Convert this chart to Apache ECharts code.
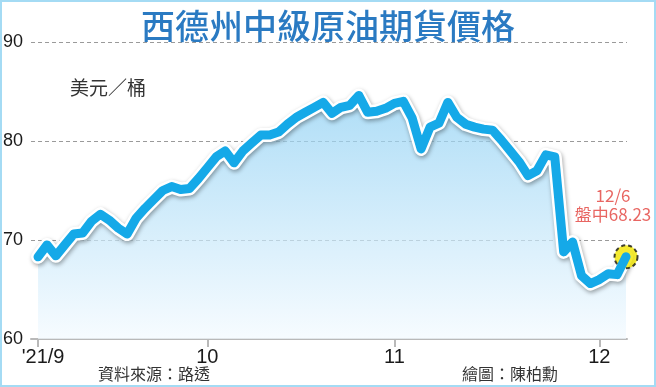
<!DOCTYPE html>
<html>
<head>
<meta charset="utf-8">
<script src="https://cdn.jsdelivr.net/npm/echarts@6/dist/echarts.min.js"></script>
<style>
html,body{margin:0;padding:0;background:#fff;}
#c{width:656px;height:387px;}
</style>
</head>
<body>
<div id="c"></div>
<script>
// WTI crude futures, USD/barrel at evenly spaced trading days (Sep 1 – Dec 6, 2021)
const prices = [
  68.3, 69.5, 68.4, 69.5, 70.6, 70.7, 71.9, 72.6, 72.0, 71.2,
  70.6, 72.2, 73.2, 74.1, 75.0, 75.4, 75.1, 75.2, 76.2, 77.3,
  78.4, 79.0, 77.8, 79.0, 79.8, 80.6, 80.6, 80.9, 81.7, 82.4,
  82.9, 83.4, 83.9, 82.8, 83.4, 83.6, 84.6, 82.9, 83.0, 83.3,
  83.8, 84.0, 82.3, 79.2, 81.4, 81.8, 83.9, 82.4, 81.7, 81.4,
  81.2, 81.1, 80.1, 79.0, 77.9, 76.5, 77.0, 78.6, 78.4, 68.8,
  69.8, 66.4, 65.6, 66.0, 66.6, 66.5, 68.3
];
const tickIndex = [0, 19, 40, 63];
const tickLabels = ["'21/9", "10", "11", "12"];
const yMin = 60, yMax = 90, yStep = 10;
const titleText = '西德州中級原油期貨價格';
const unitText = '美元／桶';
const lastDate = '12/6';
const lastNote = '盤中68.23';
const sourceText = '資料來源：路透';
const creditText = '繪圖：陳柏勳';

const chart = echarts.init(document.getElementById('c'), null, {renderer: 'canvas'});
const n = prices.length - 1;
const data = prices.map((v, i) => [i, v]);
const cjk = '"Noto Sans CJK TC", "Noto Sans", sans-serif';
const num = '"Liberation Sans Narrow", "Liberation Sans", Arial, sans-serif';

const option = {
  animation: false,
  backgroundColor: '#fff',
  title: {
    text: titleText,
    left: 'center',
    top: 4,
    textStyle: {fontFamily: cjk, fontSize: 34, fontWeight: 500, color: '#2a7ac2'}
  },
  grid: {left: 31, right: 29, top: 42, bottom: 48},
  xAxis: {
    type: 'value',
    min: -0.79,
    max: n + 0.11,
    splitLine: {show: false},
    axisLine: {lineStyle: {color: '#b9b9b9', width: 2}},
    axisTick: {show: true, customValues: tickIndex, length: 8, lineStyle: {color: '#b9b9b9', width: 2}},
    axisLabel: {
      customValues: tickIndex,
      margin: 8,
      fontFamily: num,
      fontSize: 20,
      color: '#1a1a1a',
      formatter: v => {
        const k = tickIndex.indexOf(v);
        if (k === 0) return '{f|' + tickLabels[0] + '}';
        return k >= 0 ? tickLabels[k] : '';
      },
      rich: {f: {fontFamily: num, fontSize: 20, color: '#1a1a1a', padding: [0, 0, 0, 10]}}
    }
  },
  yAxis: {
    type: 'value',
    min: yMin, max: yMax, interval: yStep,
    axisLine: {show: false},
    axisTick: {show: false},
    axisLabel: {margin: 8, fontFamily: num, fontSize: 18, color: '#1a1a1a'},
    splitLine: {lineStyle: {color: '#9a9a9a', width: 1, type: [4, 3]}}
  },
  graphic: [
    {type: 'rect', shape: {x: 1, y: 1, width: 654, height: 385}, style: {fill: null, stroke: '#a4dbf4', lineWidth: 2}, z: 100},
    {type: 'text', left: 70, top: 78, style: {text: unitText, font: '19px ' + cjk, fill: '#333'}},
    {type: 'text', left: 98, top: 366, style: {text: sourceText, font: '16px ' + cjk, fill: '#333'}},
    {type: 'text', left: 462, top: 366, style: {text: creditText, font: '16px ' + cjk, fill: '#333'}}
  ],
  series: [
    {
      type: 'line',
      data: data,
      symbol: 'none',
      z: 2,
      lineStyle: {color: '#ffffff', width: 14, join: 'round', cap: 'round',
        shadowColor: 'rgba(0,0,0,0.35)', shadowBlur: 4, shadowOffsetX: 1, shadowOffsetY: 2},
      areaStyle: {
        origin: 'start',
        color: new echarts.graphic.LinearGradient(0, 0, 0, 1, [
          {offset: 0, color: '#8ccff3'},
          {offset: 1, color: '#f3faff'}
        ])
      }
    },
    {
      type: 'scatter',
      data: [[n, prices[n]]],
      z: 3,
      symbol: 'circle',
      symbolSize: 23,
      itemStyle: {color: '#f2e600', borderColor: '#111', borderWidth: 2, borderType: [4, 3]},
      label: {
        show: true,
        position: 'top',
        distance: 20,
        offset: [-13, 0],
        align: 'center',
        formatter: lastDate + '\n' + lastNote,
        fontFamily: cjk,
        fontSize: 17,
        lineHeight: 19,
        color: '#e2403b'
      }
    },
    {
      type: 'line',
      data: data,
      symbol: 'none',
      z: 4,
      lineStyle: {color: '#15a9e8', width: 9, join: 'round', cap: 'round'}
    }
  ]
};
chart.setOption(option);
</script>
</body>
</html>
